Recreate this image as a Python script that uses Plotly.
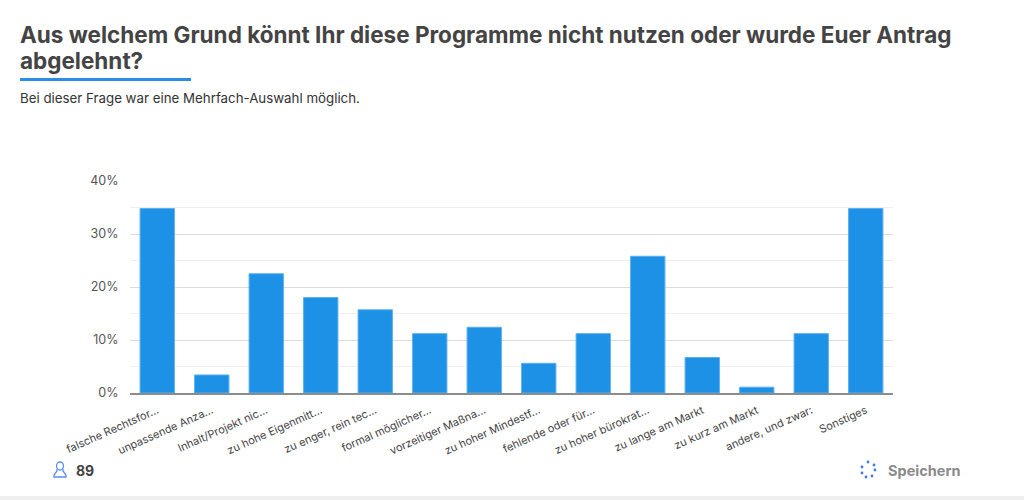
import plotly.graph_objects as go

# answer options (truncated as in the survey tool)
categories = [
    "falsche Rechtsfor…", "unpassende Anza…", "Inhalt/Projekt nic…",
    "zu hohe Eigenmitt…", "zu enger, rein tec…", "formal möglicher…",
    "vorzeitiger Maßna…", "zu hoher Mindestf…", "fehlende oder für…",
    "zu hoher bürokrat…", "zu lange am Markt", "zu kurz am Markt",
    "andere, und zwar:", "Sonstiges",
]
# share of respondents in %
shares = [34.8, 3.4, 22.5, 18.0, 15.7, 11.2, 12.4, 5.6, 11.2, 25.8, 6.7, 1.1, 11.2, 34.8]
y_ticks = [0, 10, 20, 30, 40]
y_labels = ["0%", "10%", "20%", "30%", "40%"]
respondents = "89"

title_lines = [
    "Aus welchem Grund könnt Ihr diese Programme nicht nutzen oder wurde Euer Antrag",
    "abgelehnt?",
]
subtitle = "Bei dieser Frage war eine Mehrfach-Auswahl möglich."

W, H = 1024, 500
L, R, T, B = 130, 131, 181, 107
pw, ph = W - L - R, H - T - B


def px(x):
    return (x - L) / pw


def py(y):
    return (H - B - y) / ph


blue = "#1d91e6"
font = "Inter"

fig = go.Figure()
fig.add_trace(go.Bar(
    x=categories,
    y=shares,
    marker=dict(color=blue, line=dict(color="#5aaff0", width=1)),
    hoverinfo="x+y",
))

shapes = [
    # blue underline under the title
    dict(type="rect", xref="paper", yref="paper", x0=px(20), x1=px(191),
         y0=py(81), y1=py(78), fillcolor="#2a8de8", line=dict(width=0), layer="above"),
    # grey strip at bottom of card
    dict(type="rect", xref="paper", yref="paper", x0=px(0), x1=px(1024),
         y0=py(500), y1=py(496), fillcolor="#efefef", line=dict(width=0)),
    # user icon: head + shoulders
    dict(type="circle", xref="paper", yref="paper", x0=px(56.5), x1=px(63.5),
         y0=py(470), y1=py(462), line=dict(color="#5b8def", width=1.3)),
    dict(type="path", xref="paper", yref="paper",
         path=f"M {px(57)} {py(469)} L {px(57)} {py(471)} L {px(54)} {py(475)} "
              f"L {px(54)} {py(477)} L {px(66)} {py(477)} L {px(66)} {py(475)} "
              f"L {px(63)} {py(471)} L {px(63)} {py(469)}",
         line=dict(color="#5b8def", width=1.3)),
]
# loading dots next to "Speichern"
dots = [(868, 462), (874, 465), (875, 470), (872, 476), (866, 477), (862, 473), (862, 467)]
for dx, dy in dots:
    shapes.append(dict(type="circle", xref="paper", yref="paper",
                       x0=px(dx - 1.4), x1=px(dx + 1.4), y0=py(dy + 1.4), y1=py(dy - 1.4),
                       fillcolor="#3d7be8", line=dict(width=0)))

annotations = [
    dict(text=f"<b>{title_lines[0]}</b>", xref="paper", yref="paper", x=px(18), y=py(34),
         xanchor="left", yanchor="middle", showarrow=False,
         font=dict(family=font, size=22.5, color="#444")),
    dict(text=f"<b>{title_lines[1]}</b>", xref="paper", yref="paper", x=px(18), y=py(60),
         xanchor="left", yanchor="middle", showarrow=False,
         font=dict(family=font, size=22.5, color="#444")),
    dict(text=subtitle, xref="paper", yref="paper", x=px(18), y=py(98),
         xanchor="left", yanchor="middle", showarrow=False,
         font=dict(family=font, size=13.3, color="#333")),
    dict(text=f"<b>{respondents}</b>", xref="paper", yref="paper", x=px(74), y=py(470),
         xanchor="left", yanchor="middle", showarrow=False,
         font=dict(family=font, size=14, color="#444")),
    dict(text="<b>Speichern</b>", xref="paper", yref="paper", x=px(886), y=py(470),
         xanchor="left", yanchor="middle", showarrow=False,
         font=dict(family=font, size=14.5, color="#8a8a8a")),
]

fig.update_layout(
    width=W, height=H,
    margin=dict(l=L, r=R, t=T, b=B, autoexpand=False),
    paper_bgcolor="white", plot_bgcolor="white",
    showlegend=False,
    bargap=0.37,
    shapes=shapes,
    annotations=annotations,
    font=dict(family=font, color="#444"),
)
fig.update_xaxes(
    tickangle=-24, tickfont=dict(size=11, color="#444"),
    showline=True, linecolor="#8c8c8c", linewidth=2, showgrid=False,
    ticks="outside", ticklen=5, tickcolor="rgba(0,0,0,0)", fixedrange=True,
)
fig.update_yaxes(
    range=[0, 40], tickmode="array", tickvals=y_ticks, ticktext=y_labels,
    tickfont=dict(size=12.5, color="#555"),
    showgrid=True, gridcolor="#dcdcdc", gridwidth=1, zeroline=False,
    minor=dict(dtick=5, showgrid=True, gridcolor="#f0f0f0", gridwidth=1),
    ticks="outside", ticklen=8, tickcolor="rgba(0,0,0,0)", fixedrange=True,
)

fig.write_html("out.html", config={"displayModeBar": False},
               post_script="document.body.style.margin='0';")
